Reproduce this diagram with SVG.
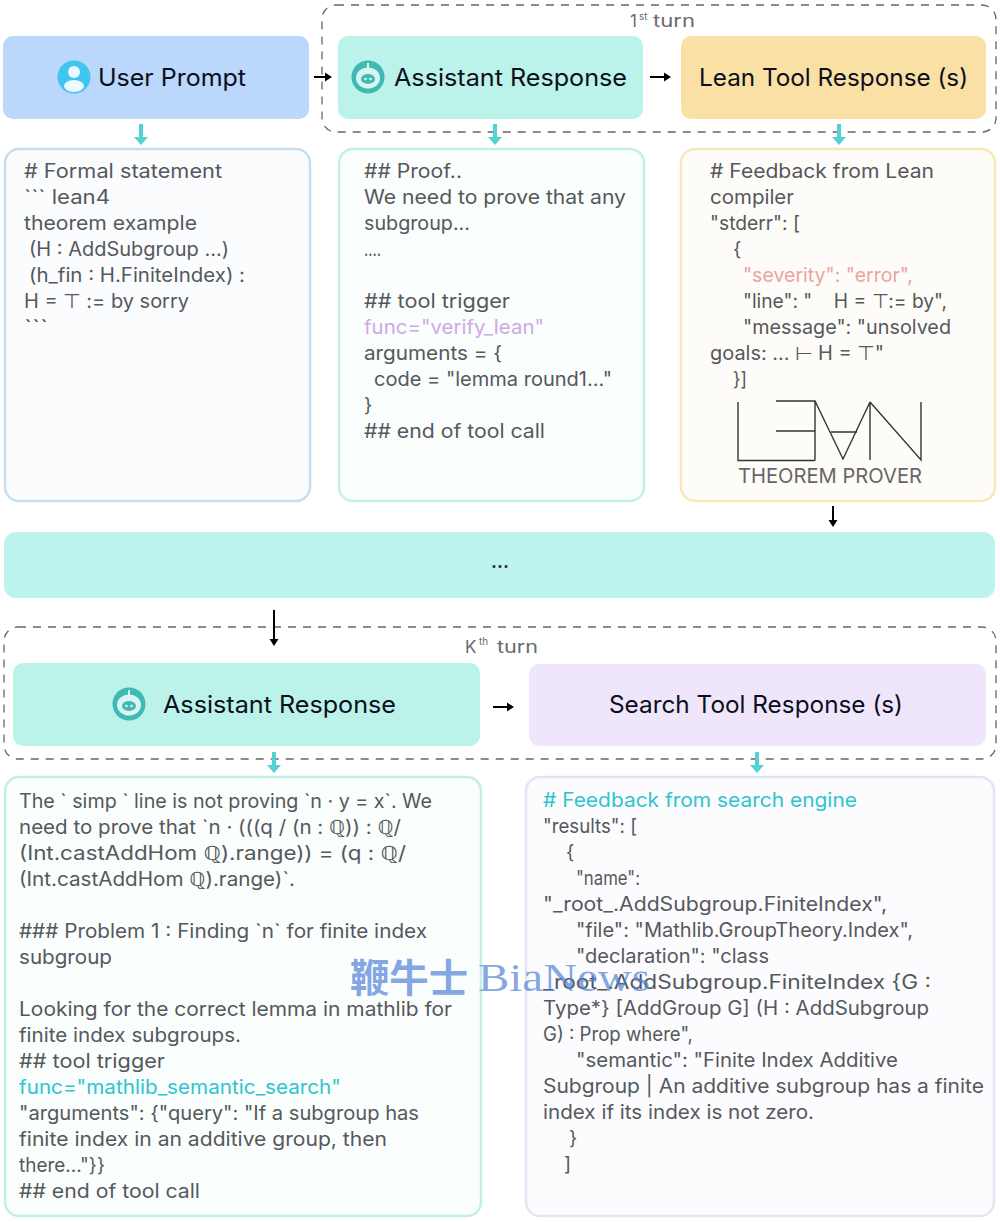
<svg xmlns="http://www.w3.org/2000/svg" width="1000" height="1222" viewBox="0 0 1000 1222">
<style>
text{font-family:"Inter","Noto Sans","Noto Sans CJK SC",sans-serif}
.h{font-size:24px;fill:#0b0f1a;font-weight:400}
.b text{font-size:19.5px;fill:#55585c}
.t{font-size:17px;fill:#6a6a6a}
.sup{font-size:10px;fill:#6a6a6a}
.dash{fill:none;stroke:#666;stroke-width:1.3;stroke-dasharray:8 7}
.k{stroke:#000;stroke-width:2;fill:none}
.c{stroke:#55d0d4;stroke-width:4;fill:none}
</style>
<defs>
<marker id="ka" markerWidth="8" markerHeight="10" refX="0" refY="5" orient="auto" markerUnits="userSpaceOnUse"><path d="M0 0.500L7 5L0 9.500Z" fill="#000"/></marker>
<marker id="ca" markerWidth="9" markerHeight="16" refX="0" refY="8" orient="auto" markerUnits="userSpaceOnUse"><path d="M0 1L8 8L0 15Z" fill="#55d0d4"/></marker>
<g id="bot"><circle r="16.5" fill="#3fb9b4"/><ellipse rx="12" ry="10.5" cy="1" fill="#d9f5f2"/><ellipse rx="7" ry="5" cy="2" fill="#3fb9b4"/><circle cx="-2.5" cy="2" r="1.3" fill="#d9f5f2"/><circle cx="2.5" cy="2" r="1.3" fill="#d9f5f2"/><rect x="-1" y="-14" width="2" height="5" fill="#d9f5f2"/></g>
</defs>
<rect width="1000" height="1222" fill="#fff"/>

<g id="turn1"><rect class="dash" x="322" y="5" width="674" height="127" rx="14"/><text class="t" x="630" y="27">1</text><text class="sup" x="639" y="20">st</text><text class="t" x="653" y="27" textLength="42" lengthAdjust="spacingAndGlyphs">turn</text></g>
<g id="turnK"><rect class="dash" x="4" y="627" width="992" height="132" rx="14"/><text class="t" x="465" y="653">K</text><text class="sup" x="479" y="645">th</text><text class="t" x="497" y="653" textLength="41" lengthAdjust="spacingAndGlyphs">turn</text></g>

<g id="user-prompt"><rect x="3" y="36" width="306" height="83" rx="10" fill="#bbd7fb"/>
<circle cx="74" cy="77" r="16.5" fill="#3ec5f0"/><circle cx="74" cy="72" r="6" fill="#eef9fd"/><ellipse cx="74" cy="86" rx="10" ry="6" fill="#eef9fd"/>
<text class="h" x="98" y="86" textLength="148" lengthAdjust="spacingAndGlyphs">User Prompt</text></g>

<g id="assistant-1"><rect x="338" y="36" width="305" height="83" rx="10" fill="#bbf2ea"/><use href="#bot" x="368" y="77"/>
<text class="h" x="394" y="86" textLength="233" lengthAdjust="spacingAndGlyphs">Assistant Response</text></g>

<g id="lean-tool"><rect x="681" y="36" width="305" height="83" rx="10" fill="#fbe0a6"/>
<text class="h" x="699" y="86" textLength="269" lengthAdjust="spacingAndGlyphs">Lean Tool Response (s)</text></g>

<g id="box-user"><rect x="5" y="149" width="305" height="352" rx="14" fill="#fafcfe" stroke="#c5dff2" stroke-width="2.5"/>
<g class="b">
<text x="24" y="178" textLength="198" lengthAdjust="spacingAndGlyphs"># Formal statement</text>
<text x="24" y="204" textLength="86" lengthAdjust="spacingAndGlyphs">``` lean4</text>
<text x="24" y="230" textLength="173" lengthAdjust="spacingAndGlyphs">theorem example</text>
<text x="29" y="256" textLength="200" lengthAdjust="spacingAndGlyphs">(H : AddSubgroup ...)</text>
<text x="29" y="282" textLength="216" lengthAdjust="spacingAndGlyphs">(h_fin : H.FiniteIndex) :</text>
<text x="24" y="308" textLength="165" lengthAdjust="spacingAndGlyphs">H = ⊤ := by sorry</text>
<text x="24" y="334" textLength="24" lengthAdjust="spacingAndGlyphs">```</text>
</g></g>

<g id="box-assistant-1"><rect x="339" y="149" width="305" height="352" rx="14" fill="#fafefd" stroke="#c3efe9" stroke-width="2.5"/>
<g class="b">
<text x="364" y="178" textLength="98" lengthAdjust="spacingAndGlyphs">## Proof..</text>
<text x="364" y="204" textLength="262" lengthAdjust="spacingAndGlyphs">We need to prove that any</text>
<text x="364" y="230" textLength="106" lengthAdjust="spacingAndGlyphs">subgroup...</text>
<text x="364" y="256" textLength="17" lengthAdjust="spacingAndGlyphs">....</text>
<text x="364" y="308" textLength="146" lengthAdjust="spacingAndGlyphs">## tool trigger</text>
<text x="364" y="334" textLength="180" lengthAdjust="spacingAndGlyphs" style="fill:#cfa9e6">func="verify_lean"</text>
<text x="364" y="360" textLength="138" lengthAdjust="spacingAndGlyphs">arguments = {</text>
<text x="374" y="386" textLength="238" lengthAdjust="spacingAndGlyphs">code = "lemma round1..."</text>
<text x="364" y="412">}</text>
<text x="364" y="438" textLength="181" lengthAdjust="spacingAndGlyphs">## end of tool call</text>
</g></g>

<g id="box-lean"><rect x="681" y="149" width="314" height="352" rx="14" fill="#fefcf8" stroke="#f8e8b8" stroke-width="2.5"/>
<g class="b">
<text x="710" y="178" textLength="224" lengthAdjust="spacingAndGlyphs"># Feedback from Lean</text>
<text x="710" y="204" textLength="84" lengthAdjust="spacingAndGlyphs">compiler</text>
<text x="710" y="230" textLength="90" lengthAdjust="spacingAndGlyphs">"stderr": [</text>
<text x="733" y="256">{</text>
<text x="743" y="282" textLength="170" lengthAdjust="spacingAndGlyphs" style="fill:#eba3a3">"severity": "error",</text>
<text x="743" y="308" textLength="204" lengthAdjust="spacingAndGlyphs">"line": "&#160;&#160;&#160;&#160;H = ⊤:= by",</text>
<text x="743" y="334" textLength="208" lengthAdjust="spacingAndGlyphs">"message": "unsolved</text>
<text x="710" y="360" textLength="174" lengthAdjust="spacingAndGlyphs">goals: ... ⊢ H =  ⊤"</text>
<text x="733" y="386" textLength="14" lengthAdjust="spacingAndGlyphs">}]</text>
</g>
<path d="M738 402V460.500H815M776 401H815V460.500M776 431H815M815 401L843 459L870 402V460M831 432H857M870 402L921 460V402" fill="none" stroke="#333" stroke-width="1.400"/>
<text x="738" y="483" textLength="184" lengthAdjust="spacingAndGlyphs" style="font-size:20px;fill:#666">THEOREM PROVER</text></g>

<g id="ellipsis"><rect x="4" y="532" width="991" height="66" rx="12" fill="#bdf3ee"/><text x="500" y="568" text-anchor="middle" style="font-size:18px;fill:#333;font-weight:700">...</text></g>

<g id="assistant-k"><rect x="13" y="663" width="467" height="83" rx="10" fill="#bbf2ea"/><use href="#bot" x="129" y="704"/>
<text class="h" x="163" y="713" textLength="233" lengthAdjust="spacingAndGlyphs">Assistant Response</text></g>
<g id="search-tool"><rect x="529" y="664" width="457" height="82" rx="10" fill="#efe6fc"/>
<text class="h" x="609" y="713" textLength="294" lengthAdjust="spacingAndGlyphs">Search Tool Response (s)</text></g>

<g id="box-assistant-k"><rect x="5" y="777" width="476" height="439" rx="14" fill="#fafefd" stroke="#c3efe9" stroke-width="2.500"/>
<g class="b">
<text x="19" y="808" textLength="413" lengthAdjust="spacingAndGlyphs">The ` simp ` line is not proving `n · y = x`. We</text>
<text x="19" y="834" textLength="382" lengthAdjust="spacingAndGlyphs">need to prove that `n · (((q / (n : ℚ)) : ℚ/</text>
<text x="19" y="860" textLength="387" lengthAdjust="spacingAndGlyphs">(Int.castAddHom ℚ).range)) = (q : ℚ/</text>
<text x="19" y="886" textLength="276" lengthAdjust="spacingAndGlyphs">(Int.castAddHom ℚ).range)`.</text>
<text x="19" y="938" textLength="408" lengthAdjust="spacingAndGlyphs">### Problem 1 : Finding `n` for finite index</text>
<text x="19" y="964" textLength="93" lengthAdjust="spacingAndGlyphs">subgroup</text>
<text x="19" y="1016" textLength="433" lengthAdjust="spacingAndGlyphs">Looking for the correct lemma in mathlib for</text>
<text x="19" y="1042" textLength="222" lengthAdjust="spacingAndGlyphs">finite index subgroups.</text>
<text x="19" y="1068" textLength="146" lengthAdjust="spacingAndGlyphs">## tool trigger</text>
<text x="19" y="1094" textLength="322" lengthAdjust="spacingAndGlyphs" style="fill:#2fc4cf">func="mathlib_semantic_search"</text>
<text x="19" y="1120" textLength="400" lengthAdjust="spacingAndGlyphs">"arguments": {"query": "If a subgroup has</text>
<text x="19" y="1146" textLength="368" lengthAdjust="spacingAndGlyphs">finite index in an additive group, then</text>
<text x="19" y="1172" textLength="86" lengthAdjust="spacingAndGlyphs">there..."}}</text>
<text x="19" y="1198" textLength="181" lengthAdjust="spacingAndGlyphs">## end of tool call</text>
</g></g>

<g id="box-search"><rect x="526" y="777" width="468" height="439" rx="14" fill="#fcfcfe" stroke="#e2e6f4" stroke-width="2.500"/>
<g class="b">
<text x="543" y="807" textLength="314" lengthAdjust="spacingAndGlyphs" style="fill:#2fc4cf"># Feedback from search engine</text>
<text x="543" y="833" textLength="94" lengthAdjust="spacingAndGlyphs">"results": [</text>
<text x="566" y="859">{</text>
<text x="576" y="885" textLength="64" lengthAdjust="spacingAndGlyphs">"name":</text>
<text x="543" y="911" textLength="344" lengthAdjust="spacingAndGlyphs">"_root_.AddSubgroup.FiniteIndex",</text>
<text x="576" y="937" textLength="337" lengthAdjust="spacingAndGlyphs">"file": "Mathlib.GroupTheory.Index",</text>
<text x="576" y="963" textLength="193" lengthAdjust="spacingAndGlyphs">"declaration": "class</text>
<text x="543" y="989" textLength="388" lengthAdjust="spacingAndGlyphs">_root_.AddSubgroup.FiniteIndex {G :</text>
<text x="543" y="1015" textLength="386" lengthAdjust="spacingAndGlyphs">Type*} [AddGroup G] (H : AddSubgroup</text>
<text x="543" y="1041" textLength="150" lengthAdjust="spacingAndGlyphs">G) : Prop where",</text>
<text x="576" y="1067" textLength="322" lengthAdjust="spacingAndGlyphs">"semantic": "Finite Index Additive</text>
<text x="543" y="1093" textLength="441" lengthAdjust="spacingAndGlyphs">Subgroup | An additive subgroup has a finite</text>
<text x="543" y="1119" textLength="271" lengthAdjust="spacingAndGlyphs">index if its index is not zero.</text>
<text x="569" y="1145">}</text>
<text x="564" y="1171">]</text>
</g></g>

<g id="connectors">
<path class="k" d="M314 77H325" marker-end="url(#ka)"/>
<path class="k" d="M650 77H664" marker-end="url(#ka)"/>
<path class="k" d="M493 707H507" marker-end="url(#ka)"/>
<path class="k" d="M833 506V520" marker-end="url(#ka)"/>
<path class="k" d="M274 610V639" marker-end="url(#ka)"/>
<path class="c" d="M141 124V137" marker-end="url(#ca)"/>
<path class="c" d="M495 124V137" marker-end="url(#ca)"/>
<path class="c" d="M839 124V137" marker-end="url(#ca)"/>
<path class="c" d="M274 752V765" marker-end="url(#ca)"/>
<path class="c" d="M757 752V765" marker-end="url(#ca)"/>
</g>
<g id="watermark" style="fill:#4f7fd6;fill-opacity:.7"><text x="350" y="992" textLength="118" lengthAdjust="spacingAndGlyphs" style="font-family:'Noto Sans CJK SC',serif;font-size:39px;font-weight:700">鞭牛士</text><text x="478" y="991" textLength="172" lengthAdjust="spacingAndGlyphs" style="font-family:'Liberation Serif',serif;font-size:40px">BiaNews</text></g>
</svg>
